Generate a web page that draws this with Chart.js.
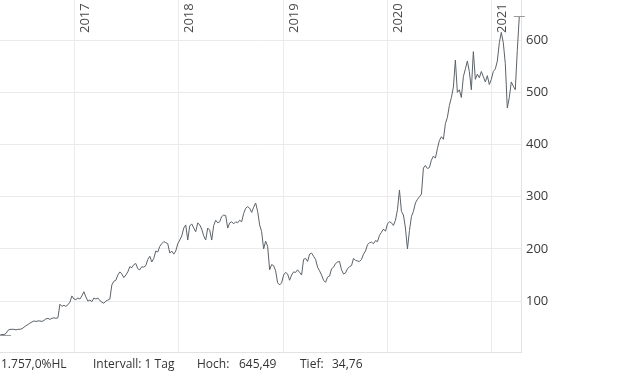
<!DOCTYPE html>
<html><head><meta charset="utf-8">
<script src="https://cdn.jsdelivr.net/npm/chart.js@4"></script>
<style>html,body{margin:0;padding:0;background:#fff}canvas{display:block}</style>
</head><body>
<canvas id="c" width="620" height="372"></canvas>
<script>
// Weekly closing prices, first week starting 2016-04-14
const startDate = '2016-04-14';
const stepDays = 7;
const closes = [
  34.76, 36, 36, 38, 44, 46, 46, 46, 45, 46,
  46, 47, 50, 53, 55, 58, 60, 62, 61, 62,
  62, 61, 63, 66, 67, 65, 67, 68, 67, 68,
  94, 90, 92, 90, 93, 98, 110, 104, 103, 106,
  104, 110, 118, 108, 100, 102, 99, 106, 104, 106,
  101, 98, 96, 100, 102, 104, 131, 138, 140, 150,
  156, 152, 145, 150, 156, 166, 164, 170, 172, 162,
  160, 166, 165, 168, 180, 186, 175, 182, 196, 194,
  205, 210, 214, 212, 210, 192, 196, 190, 196, 210,
  217, 225, 240, 246, 217, 244, 248, 240, 233, 250,
  246, 238, 225, 217, 240, 236, 217, 245, 255, 250,
  252, 262, 265, 264, 240, 250, 252, 248, 252, 250,
  255, 252, 268, 278, 281, 278, 270, 280, 288, 272,
  246, 233, 200, 215, 205, 160, 170, 168, 158, 135,
  131, 135, 150, 155, 152, 140, 150, 156, 155, 160,
  155, 150, 180, 182, 176, 190, 192, 186, 180, 165,
  158, 150, 140, 136, 146, 148, 162, 165, 172, 175,
  176, 160, 152, 154, 162, 166, 168, 182, 178, 177,
  176, 180, 190, 196, 208, 212, 213, 210, 216, 214,
  226, 232, 238, 234, 248, 252, 250, 245, 255, 275,
  313, 272, 265, 240, 200, 235, 262, 272, 288, 295,
  300, 305, 355, 360, 354, 356, 370, 378, 374, 392,
  408, 415, 410, 440, 452, 475, 490, 510, 562, 500,
  505, 490, 530, 545, 560, 540, 505, 578, 525, 535,
  528, 540, 530, 520, 532, 515, 525, 540, 545, 560,
  595, 615, 595, 555, 470, 490, 520, 512, 505, 580,
  645.49
];
const yearTicks = ['2017', '2018', '2019', '2020', '2021'];
const priceTicks = [100, 200, 300, 400, 500, 600];
const highValue = 645.49;
const lowValue = 34.76;
const footerTexts = ['1.757,0%HL', 'Intervall: 1 Tag', 'Hoch:', '645,49', 'Tief:', '34,76'];

const DAY = 86400000;
const t0 = Date.parse(startDate);
const yearDays = yearTicks.map(y => (Date.parse(y + '-01-01') - t0) / DAY);
const points = closes.map((v, i) => ({ x: i * stepDays, y: v }));

const footerX = [1, 93, 197, 239, 300, 332];

const overlay = {
  id: 'overlay',
  beforeDatasetsDraw(chart) {
    const ctx = chart.ctx, xs = chart.scales.x;
    ctx.save();
    ctx.font = '13px "Open Sans"';
    ctx.fillStyle = '#4a4a4a';
    ctx.textAlign = 'left';
    ctx.textBaseline = 'alphabetic';
    yearTicks.forEach((y, i) => {
      const px = xs.getPixelForValue(yearDays[i]);
      ctx.save();
      ctx.translate(px + 14.5, 33);
      ctx.rotate(-Math.PI / 2);
      ctx.fillText(y, 0, 0);
      ctx.restore();
    });
    ctx.restore();
  },
  afterDraw(chart) {
    const ctx = chart.ctx, xs = chart.scales.x, ys = chart.scales.y, ca = chart.chartArea;
    ctx.save();
    ctx.strokeStyle = '#9a9a9a';
    ctx.lineWidth = 1;
    const ly = Math.round(ys.getPixelForValue(lowValue)) + 0.5;
    ctx.beginPath(); ctx.moveTo(ca.left, ly); ctx.lineTo(ca.left + 11, ly); ctx.stroke();
    const hx = xs.getPixelForValue(points[points.length - 1].x);
    const hy = Math.round(ys.getPixelForValue(highValue)) + 0.5;
    ctx.beginPath(); ctx.moveTo(hx - 5.5, hy); ctx.lineTo(hx + 5.5, hy); ctx.stroke();
    ctx.font = '12px "Open Sans"';
    ctx.fillStyle = '#333';
    ctx.textAlign = 'left';
    ctx.textBaseline = 'alphabetic';
    footerTexts.forEach((t, i) => ctx.fillText(t, footerX[i], 368));
    ctx.restore();
  }
};

new Chart(document.getElementById('c'), {
  type: 'line',
  data: {
    datasets: [{
      data: points,
      borderColor: '#5b6268',
      borderWidth: 1,
      pointRadius: 0,
      tension: 0,
      fill: false
    }]
  },
  options: {
    responsive: false,
    animation: false,
    devicePixelRatio: 1,
    layout: { padding: { left: 0, right: 0, top: 0, bottom: 20 } },
    plugins: { legend: { display: false }, tooltip: { enabled: false } },
    scales: {
      x: {
        type: 'linear', min: 0, max: 1826,
        afterBuildTicks: s => { s.ticks = yearDays.map(v => ({ value: v })); },
        afterFit: s => { s.paddingLeft = 0; s.paddingRight = 0; s.height = 0; },
        ticks: { display: false },
        grid: { color: '#ebebeb', drawTicks: false },
        border: { display: true, color: '#e3e3e3' }
      },
      y: {
        position: 'right', min: 2.5, max: 677,
        afterBuildTicks: s => { s.ticks = priceTicks.map(v => ({ value: v })); },
        afterFit: s => { s.width = 99; s.paddingTop = 0; s.paddingBottom = 0; },
        ticks: { padding: 5, color: '#3a3a3a', font: { family: '"Open Sans"', size: 13 } },
        grid: { color: '#ebebeb', drawTicks: false },
        border: { display: true, color: '#e3e3e3' }
      }
    }
  },
  plugins: [overlay]
});
</script>
</body></html>
